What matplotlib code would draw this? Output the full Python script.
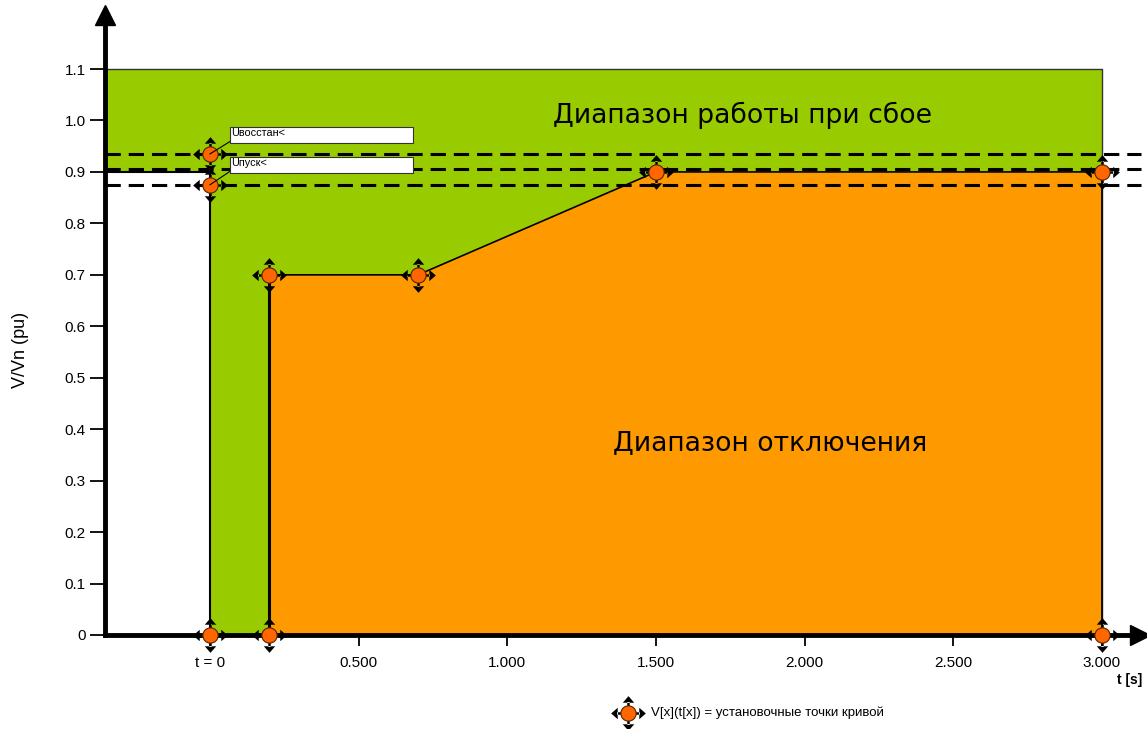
import matplotlib.pyplot as plt
import numpy as np
from matplotlib.path import Path

# curve set points (t in s, V in pu)
curve_t = [0.2, 0.2, 0.7, 1.5, 3.0, 3.0]
curve_v = [0.0, 0.7, 0.7, 0.9, 0.9, 0.0]
pts_t = [0.0, 0.2, 3.0, 0.0, 0.0, 0.2, 0.7, 1.5, 3.0]
pts_v = [0.0, 0.0, 0.0, 0.875, 0.935, 0.7, 0.7, 0.9, 0.9]
dash_levels = [0.935, 0.906, 0.875]
u_restore = 0.935
u_start = 0.875
vmax = 1.1
t_end = 3.0
yticks = [0, 0.1, 0.2, 0.3, 0.4, 0.5, 0.6, 0.7, 0.8, 0.9, 1.0, 1.1]
ylabels = ['0', '0.1', '0.2', '0.3', '0.4', '0.5', '0.6', '0.7', '0.8', '0.9', '1.0', '1.1']
xticks = [0, 0.5, 1.0, 1.5, 2.0, 2.5, 3.0]
xlabels = ['t = 0', '0.500', '1.000', '1.500', '2.000', '2.500', '3.000']

green = '#99CC00'
orange = '#FF9900'
dot = '#FF6600'

W, H = 1147, 729
fig = plt.figure(figsize=(W / 100, H / 100), dpi=100)
# axes box in pixels: left spine x=105, bottom spine y=635
ax = fig.add_axes([105 / W, (H - 635) / H, (1140 - 105) / W, (635 - 15) / H])
xmin, xmax = -0.353, 3.128
ymin, ymax = 0.0, 1.205
ax.set_xlim(xmin, xmax)
ax.set_ylim(ymin, ymax)

# green operating range
ax.fill([xmin, xmin, t_end, t_end, 0, 0], [0.9, vmax, vmax, 0, 0, 0.9],
        color=green, lw=0, zorder=1)
ax.plot([xmin, t_end, t_end], [vmax, vmax, 0], color='#333333', lw=1, zorder=2)
ax.plot([xmin, 0, 0], [0.9, 0.9, 0], color='black', lw=1.5, zorder=2)
# orange trip range
ax.fill(curve_t, curve_v, color=orange, lw=0, zorder=2)
ax.plot(curve_t, curve_v, color='black', lw=1.2, zorder=3)
ax.plot([0.2, 0.2], [0, 0.7], color='black', lw=2.2, zorder=3)

for lv in dash_levels:
    ax.plot([xmin, 3.13], [lv, lv], color='black', lw=2.2, ls=(0, (5, 2.6)),
            zorder=4, clip_on=False)

# axes look
for s in ['top', 'right']:
    ax.spines[s].set_visible(False)
ax.spines['left'].set_linewidth(3.5)
ax.spines['bottom'].set_linewidth(3.5)
ax.spines['left'].set_zorder(6)
ax.spines['bottom'].set_zorder(6)
ax.plot([1], [0], marker='>', ms=14, color='black', transform=ax.transAxes,
        clip_on=False, zorder=7)
ax.plot([0], [1], marker='^', ms=14, color='black', transform=ax.transAxes,
        clip_on=False, zorder=7)

ax.set_yticks(yticks)
ax.set_yticklabels(ylabels, fontsize=11, family='Liberation Sans')
ax.tick_params(axis='y', length=11, width=1.3, pad=3)
ax.set_xticks(xticks)
ax.set_xticklabels(xlabels, fontsize=11, family='Liberation Sans')
ax.tick_params(axis='x', length=8, width=1.3, pad=7)
ax.set_ylabel('V/Vn (pu)', fontsize=13, family='Liberation Sans')
ax.yaxis.set_label_coords(-0.073, 0.46)
fig.text(1130 / W, 1 - 680 / H, 't [s]', fontsize=10, fontweight='bold',
         family='Liberation Sans', ha='center', va='center')

# set point marker: four arrowheads around the dot
verts, codes = [], []
for ang in [0, 90, 180, 270]:
    c, s = np.cos(np.radians(ang)), np.sin(np.radians(ang))
    tri = [(1.0, 0.0), (0.62, 0.33), (0.62, -0.33), (1.0, 0.0)]
    stem = [(0.35, 0.07), (0.64, 0.07), (0.64, -0.07), (0.35, -0.07), (0.35, 0.07)]
    for shape in (tri, stem):
        rot = [(x * c - y * s, x * s + y * c) for x, y in shape]
        verts += rot
        codes += [Path.MOVETO] + [Path.LINETO] * (len(rot) - 2) + [Path.CLOSEPOLY]
arrows = Path(verts, codes)

ax.plot(pts_t, pts_v, ls='none', marker=arrows, ms=25, color='black',
        mec='black', mew=0, zorder=8, clip_on=False)
ax.plot(pts_t, pts_v, ls='none', marker='o', ms=11, mfc=dot, mec='#552200',
        mew=0.8, zorder=9, clip_on=False)

# setting labels with leader lines
for lv, txt, by in [(u_restore, 'Uвосстан<', 0.956), (u_start, 'Uпуск<', 0.898)]:
    ax.plot([0, 0.067], [lv, by + 0.003], color='black', lw=0.8, zorder=9)
    ax.add_patch(plt.Rectangle((0.067, by), 0.615, 0.031, fc='white', ec='#333333',
                               lw=0.8, zorder=9))
    ax.text(0.072, by + 0.019, txt, fontsize=7.8, family='Liberation Sans',
            va='center', ha='left', zorder=10)

ax.text(1.791, 1.009, 'Диапазон работы при сбое', fontsize=19.2,
        family='DejaVu Sans', ha='center', va='center', zorder=10)
ax.text(1.884, 0.373, 'Диапазон отключения', fontsize=19.2,
        family='DejaVu Sans', ha='center', va='center', zorder=10)

# legend
lx, ly = 628 / W, 1 - 713 / H
fig.add_artist(plt.Line2D([lx], [ly], marker=arrows, ms=25, color='black', mew=0))
fig.add_artist(plt.Line2D([lx], [ly], marker='o', ms=11, mfc=dot, mec='#552200', mew=0.8))
fig.text(651 / W, ly, 'V[x](t[x]) = установочные точки кривой', fontsize=9.5,
         family='Liberation Sans', va='center', ha='left')

fig.savefig('out.png', dpi=100)
